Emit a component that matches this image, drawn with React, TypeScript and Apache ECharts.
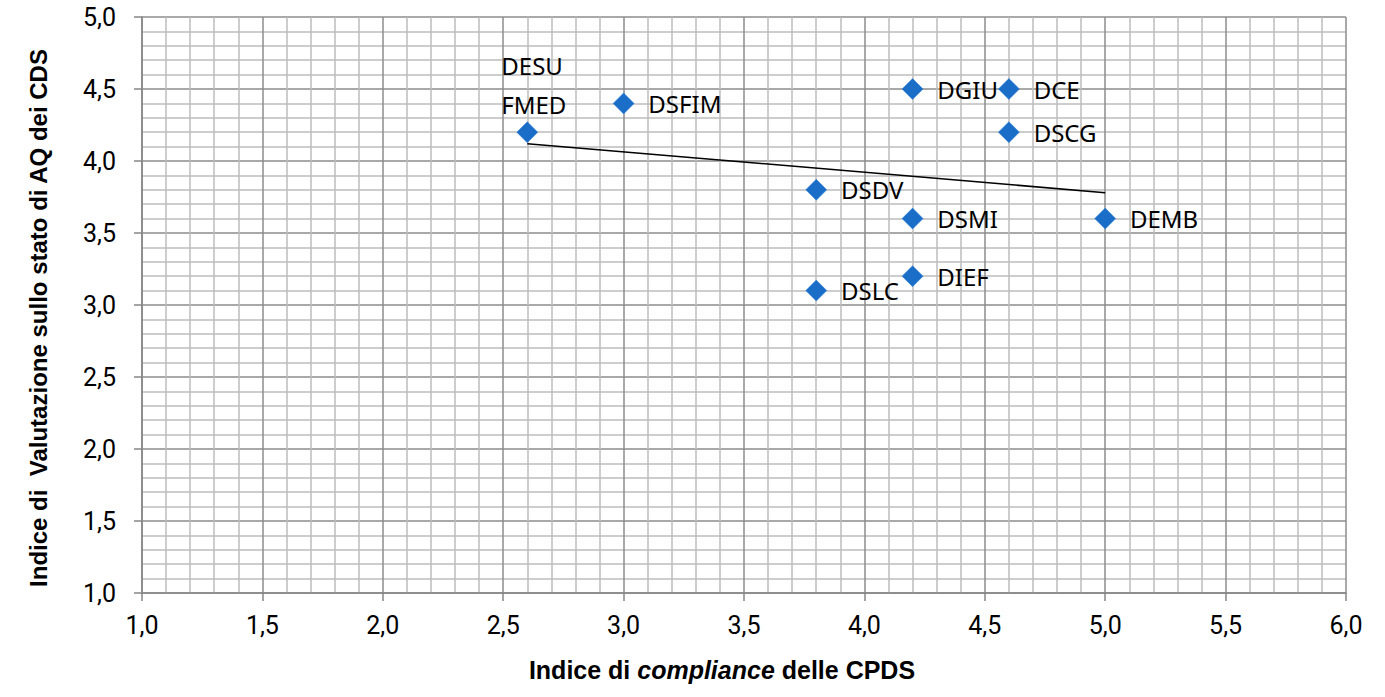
import React, { useEffect, useRef } from "react";
import * as echarts from "echarts";

const names = ["DESU\nFMED", "DSFIM", "DGIU", "DCE", "DSCG", "DSDV", "DSMI", "DEMB", "DIEF", "DSLC"];
const xValues = [2.6, 3.0, 4.2, 4.6, 4.6, 3.8, 4.2, 5.0, 4.2, 3.8];
const yValues = [4.2, 4.4, 4.5, 4.5, 4.2, 3.8, 3.6, 3.6, 3.2, 3.1];
const trendX = [2.6, 5.0];
const trendY = [4.12, 3.78];

const fmt = (v: number) => v.toFixed(1).replace(".", ",");
const titleFont = "Liberation Sans Narrow, Liberation Sans, Arial";

export default function App() {
  const ref = useRef<HTMLDivElement>(null);
  useEffect(() => {
    if (!ref.current) return;
    const chart = echarts.init(ref.current, null, { renderer: "svg" });
    const axisCommon = {
      type: "value" as const,
      interval: 0.5,
      axisLine: { show: true, lineStyle: { color: "#868686", width: 1.5 } },
      axisTick: { show: true, inside: false, length: 8, lineStyle: { color: "#868686", width: 1.5 } },
      minorTick: { show: false, splitNumber: 5 },
      splitLine: { show: true, lineStyle: { color: "#8c8c8c", width: 1.5 } },
      minorSplitLine: { show: true, lineStyle: { color: "#bcbcbc", width: 1.5 } },
      axisLabel: { formatter: fmt, color: "#000", fontSize: 25, fontFamily: "Roboto" },
    };
    chart.setOption({
      animation: false,
      grid: { left: 142, top: 17, right: 39, bottom: 104, containLabel: false },
      xAxis: {
        ...axisCommon,
        min: 1,
        max: 6,
        axisLabel: { ...axisCommon.axisLabel, margin: 20 },
        name: "{a|Indice di }{b|compliance}{a| delle CPDS}",
        nameLocation: "middle",
        nameGap: 64,
        nameTextStyle: {
          padding: [0, 44, 0, 0],
          rich: {
            a: { fontSize: 25, fontWeight: "bold", color: "#000", fontFamily: titleFont },
            b: { fontSize: 25, fontWeight: "bold", fontStyle: "italic", color: "#000", fontFamily: titleFont },
          },
        },
      },
      yAxis: {
        ...axisCommon,
        min: 1,
        max: 5,
        axisLabel: { ...axisCommon.axisLabel, margin: 26 },
        name: "Indice di  Valutazione sullo stato di AQ dei CDS",
        nameLocation: "middle",
        nameGap: 92,
        nameTextStyle: {
          color: "#000",
          fontSize: 24,
          fontWeight: "bold",
          fontFamily: titleFont,
          padding: [0, 26, 0, 0],
        },
      },
      series: [
        {
          type: "line",
          data: trendX.map((x, i) => [x, trendY[i]]),
          symbol: "none",
          lineStyle: { color: "#000", width: 1.5 },
          z: 3,
        },
        {
          type: "scatter",
          symbol: "diamond",
          symbolSize: [21, 21],
          itemStyle: { color: "#1a6ec8", opacity: 1, borderColor: "#2f7fd6", borderWidth: 0.5 },
          z: 4,
          data: xValues.map((x, i) => ({
            value: [x, yValues[i]],
            name: names[i],
            label:
              i === 0
                ? { position: "top", align: "left", offset: [-26, 17], lineHeight: 39 }
                : undefined,
          })),
          label: {
            show: true,
            position: "right",
            distance: 14,
            formatter: (p: any) => p.name,
            color: "#000",
            fontSize: 24,
            fontFamily: "Noto Sans",
          },
        },
      ],
    });
    return () => chart.dispose();
  }, []);
  return (
    <div
      ref={ref}
      style={{ position: "fixed", left: 0, top: 0, width: 1385, height: 697, background: "#fff" }}
    />
  );
}
